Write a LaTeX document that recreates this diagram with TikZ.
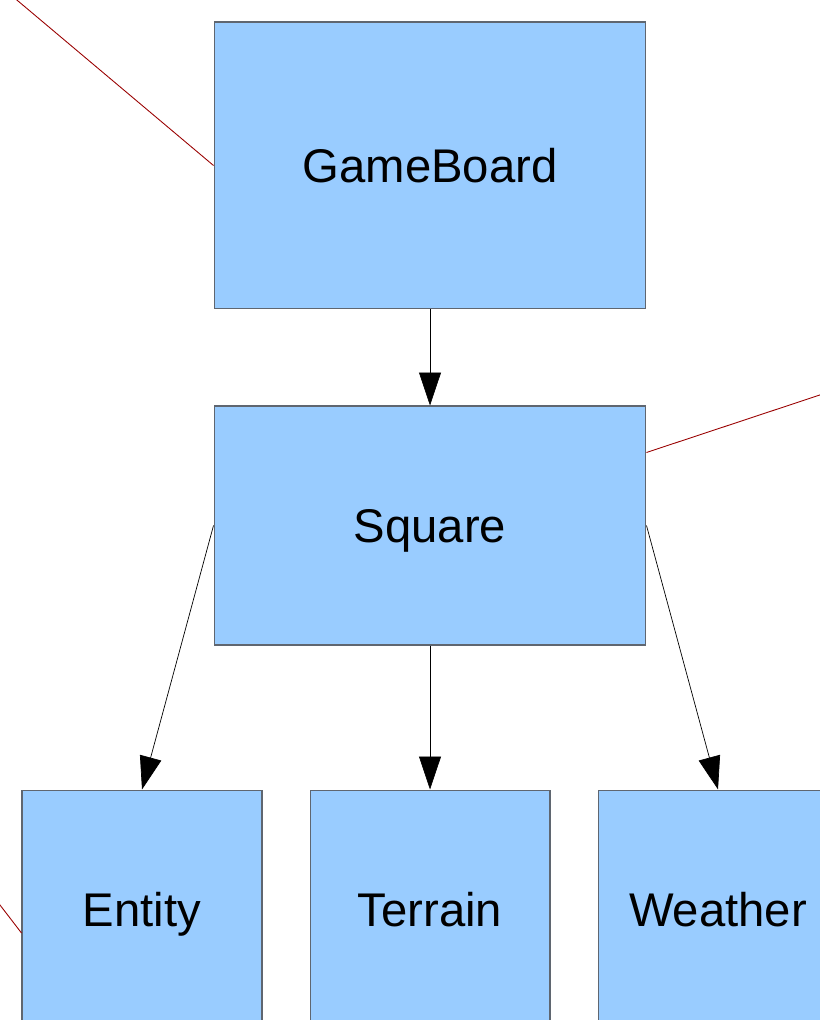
\documentclass[tikz,border=0pt]{standalone}
\usepackage{fontspec}
\setmainfont{Liberation Sans}
\usetikzlibrary{arrows.meta}

\definecolor{boxblue}{HTML}{99CCFF}
\definecolor{boxline}{HTML}{5F6670}
\definecolor{linkred}{HTML}{990000}

\begin{document}
\begin{tikzpicture}[x=0.02cm,y=-0.02cm]
\tikzset{classbox/.style = {shape=rectangle,draw=boxline,fill=boxblue,line width=0.6pt,inner sep=0pt,
  font=\fontsize{26.9}{32}\selectfont,text height=19.3pt,text depth=0pt}}
\tikzset{bigbox/.style = {classbox,minimum width=8.64cm}}
\tikzset{smallbox/.style = {classbox,minimum width=4.8cm,minimum height=4.8cm}}
\tikzset{edge/.style = {-{Triangle[length=0.66cm,width=0.44cm]},line width=0.4pt}}
\tikzset{link/.style = {draw=linkred,line width=0.5pt}}
\useasboundingbox (0,0) rectangle (820,1020);
\clip (0,0) rectangle (820,1020);

\node[bigbox,minimum height=5.74cm] (board) at (430,165.5) {GameBoard};
\node[bigbox,minimum height=4.78cm] (square) at (430,525.5) {Square};
\node[smallbox] (entity) at (142,910) {Entity};
\node[smallbox] (terrain) at (430,910) {Terrain};
\node[smallbox] (weather) at (718,910) {Weather};

\draw[edge] (board) -- (square);
\draw[edge] (square.west) -- (entity.north);
\draw[edge] (square) -- (terrain);
\draw[edge] (square.east) -- (weather.north);

% links leading off to the rest of the model
\coordinate (boardout) at (-20,-31);
\coordinate (squareout) at (850,385);
\coordinate (entityout) at (-10,892);
\draw[link] (board.west) -- (boardout);
\draw[link] ([yshift=-0.94cm]square.north east) -- (squareout);
\draw[link] ([yshift=-0.46cm]entity.west) -- (entityout);

\end{tikzpicture}
\end{document}
